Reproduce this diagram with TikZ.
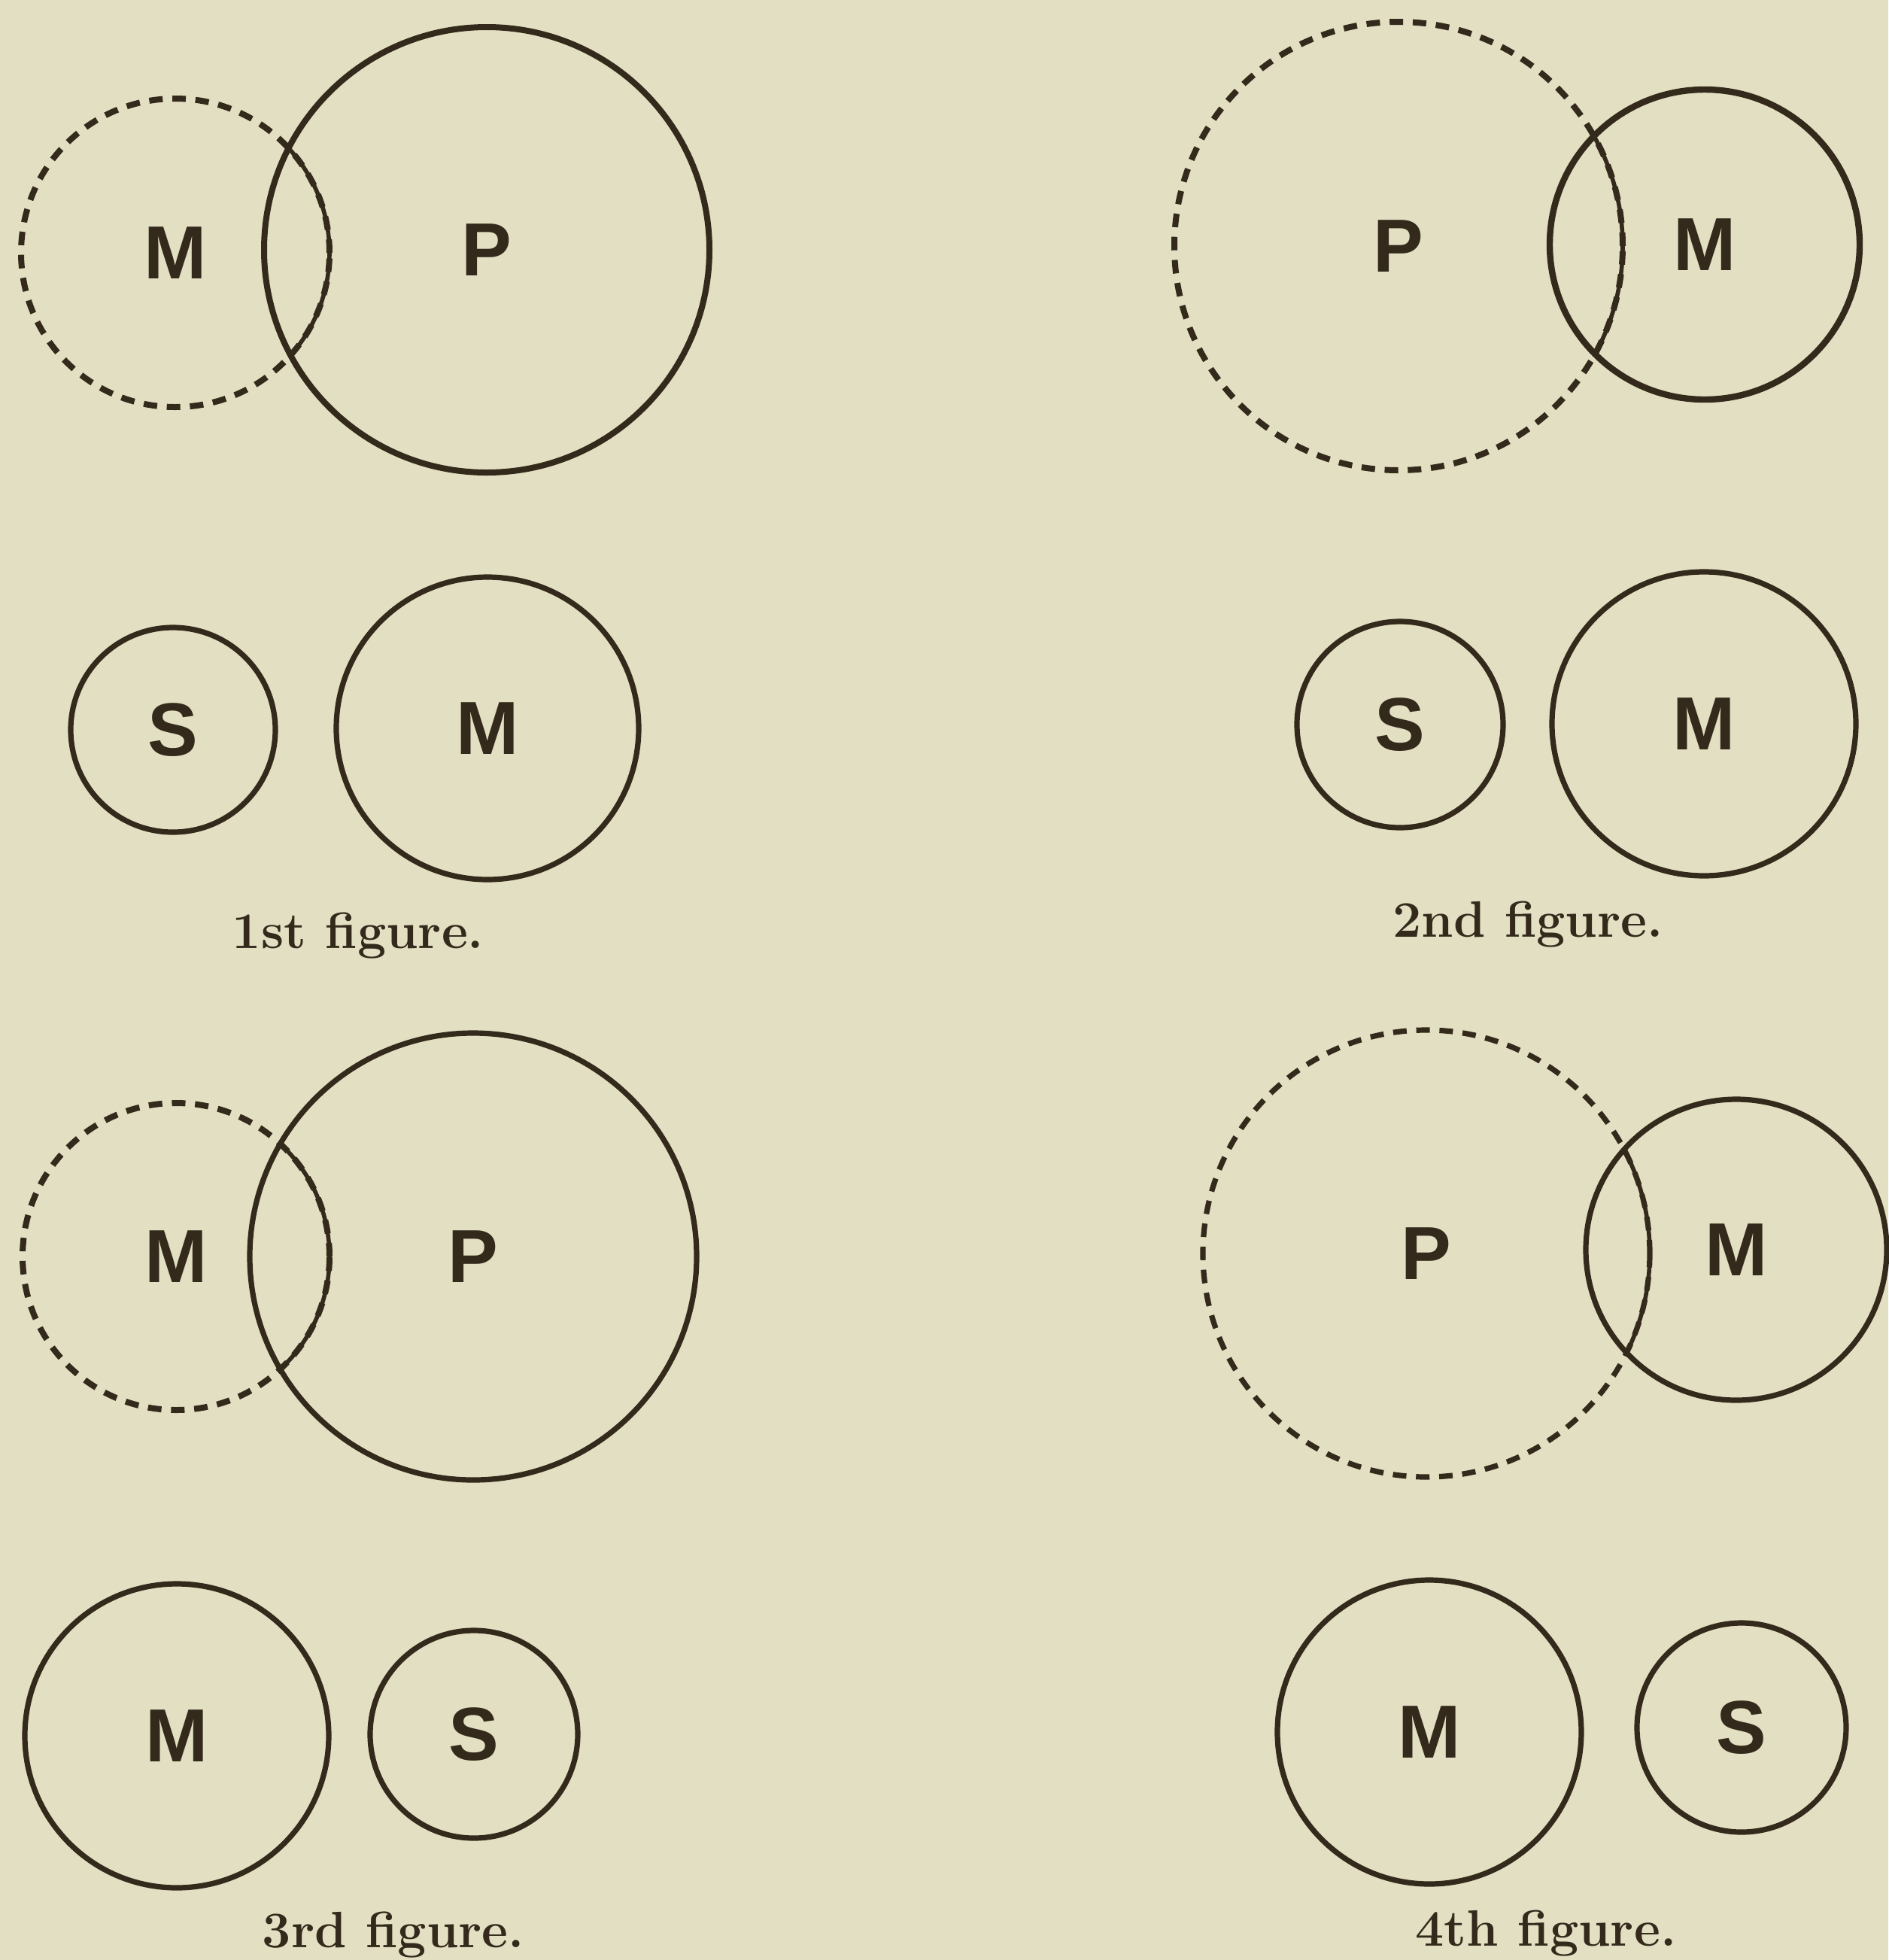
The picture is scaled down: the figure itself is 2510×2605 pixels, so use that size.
\documentclass[tikz,border=0pt]{standalone}
\usepackage{fontspec}
\setsansfont{Liberation Sans}
\usepackage{tikz}
\usetikzlibrary{positioning}
\usepackage{xcolor}

\definecolor{paper}{RGB}{227,223,194}
\definecolor{ink}{RGB}{52,42,28}

\newcommand{\lettr}{\sffamily\bfseries\fontsize{25}{30}\selectfont}
\newcommand{\capfont}{\rmfamily\bfseries\fontsize{17}{21}\selectfont}

\begin{document}
\begin{tikzpicture}[
  x=0.25pt, y=-0.25pt,
  ring/.style={
    circle, draw=ink, line width=1.8pt, inner sep=0pt,
    minimum size=#1*0.5pt, text=ink, font=\lettr
  },
  dashring/.style={
    ring=#1, line width=2pt, dash pattern=on 4.5pt off 3.2pt
  },
  lens/.style={draw=ink, line width=1.4pt},
  caption/.style={anchor=base, text=ink, font=\capfont}
]

% ---- paper ----
\fill[paper] (0,0) rectangle (2510,2605);
\useasboundingbox (0,0) rectangle (2510,2605);

% ---- 1st figure ----
\node[dashring=205] (m1) at (233,336) {M};
\node[ring=296, line width=2pt] (p1) at (647,332) {P};
\begin{scope}
  \clip (p1.center) circle[radius=296];
  \draw[lens] (m1.center) circle[radius=205];
\end{scope}
\node[ring=136] (s1) at (230,970) {S};
\node[ring=201] (m1b) at (648,968) {M};
\node[caption] (cap1) at (476,1260) {1st figure.};

% ---- 2nd figure ----
\node[dashring=298] (p2) at (1859,327) {P};
\node[ring=206, line width=2.1pt] (m2) at (2266,325) {M};
\begin{scope}
  \clip (m2.center) circle[radius=206];
  \draw[lens] (p2.center) circle[radius=298];
\end{scope}
\node[ring=137] (s2) at (1861,963) {S};
\node[ring=202] (m2b) at (2265,962) {M};
\node[caption] (cap2) at (2031,1245) {2nd figure.};

% ---- 3rd figure ----
\node[dashring=204] (m3) at (234,1670) {M};
\node[ring=297] (p3) at (629,1670) {P};
\begin{scope}
  \clip (p3.center) circle[radius=297];
  \draw[lens] (m3.center) circle[radius=204];
\end{scope}
\node[ring=202] (m3b) at (235,2307) {M};
\node[ring=138] (s3) at (630,2305) {S};
\node[caption] (cap3) at (523,2588) {3rd figure.};

% ---- 4th figure ----
\node[dashring=297, line width=1.8pt] (p4) at (1896,1666) {P};
\node[ring=200] (m4) at (2308,1661) {M};
\begin{scope}
  \clip (m4.center) circle[radius=200];
  \draw[lens] (p4.center) circle[radius=297];
\end{scope}
\node[ring=202] (m4b) at (1900,2302) {M};
\node[ring=139] (s4) at (2315,2296) {S};
\node[caption] (cap4) at (2055,2586) {4th figure.};

\end{tikzpicture}
\end{document}
